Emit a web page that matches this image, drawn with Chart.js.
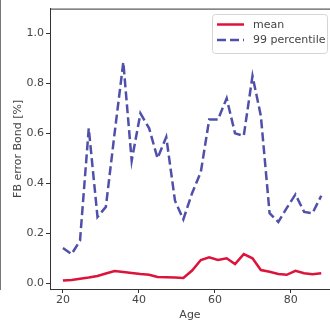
<!DOCTYPE html>
<html lang="en">
<head>
  <meta charset="UTF-8">
  <title>FB error Bond</title>
  <script src="https://cdn.jsdelivr.net/npm/chart.js"></script>
  <style>
    body {
      margin: 0;
      padding: 0;
      background-color: #fff;
      overflow: hidden;
    }
    canvas {
      display: block;
    }
  </style>
</head>
<body>
  <canvas id="chart" width="330" height="323"></canvas>
  <script>
    const ages = [20, 22.3, 24.5, 26.8, 29.1, 31.3, 33.6, 35.9, 38.1, 40.4, 42.7, 44.9, 47.2, 49.5, 51.7,
      54, 56.3, 58.5, 60.8, 63.1, 65.3, 67.6, 69.9, 72.1, 74.4, 76.7, 78.9, 81.2, 83.5, 85.7, 88];
    const meanVals = [0.010, 0.012, 0.017, 0.022, 0.028, 0.038, 0.048, 0.044, 0.040, 0.036, 0.033, 0.024,
      0.023, 0.022, 0.020, 0.050, 0.092, 0.103, 0.092, 0.099, 0.076, 0.116, 0.099, 0.052, 0.045, 0.036,
      0.033, 0.049, 0.039, 0.035, 0.039];
    const p99Vals = [0.14, 0.116, 0.17, 0.62, 0.265, 0.305, 0.60, 0.885, 0.49, 0.68, 0.62, 0.50, 0.585,
      0.33, 0.255, 0.36, 0.445, 0.655, 0.655, 0.74, 0.60, 0.59, 0.83, 0.67, 0.28, 0.245, 0.30, 0.355,
      0.285, 0.28, 0.35];
    const xTicks = [20, 40, 60, 80];
    const yTicks = [0.0, 0.2, 0.4, 0.6, 0.8, 1.0];
    const seriesNames = ['mean', '99 percentile'];

    const red = 'rgb(220, 20, 60)';
    const blue = 'rgb(80, 80, 170)';
    const textColor = '#444';
    const axisColor = '#333';
    const dash = [9, 4];

    // top spine, the cut-off neighbour's edge on the left, and the boxed legend
    const extras = {
      id: 'extras',
      afterDraw(chart) {
        const ctx = chart.ctx;
        const a = chart.chartArea;
        ctx.save();
        ctx.strokeStyle = axisColor;
        ctx.lineWidth = 1;
        ctx.beginPath();
        ctx.moveTo(a.left, a.top + 0.5);
        ctx.lineTo(a.right, a.top + 0.5);
        ctx.stroke();

        ctx.strokeStyle = '#777';
        ctx.beginPath();
        ctx.moveTo(0.5, 0);
        ctx.lineTo(0.5, 290);
        ctx.stroke();

        // legend
        const lx = 212.5, ly = 14.5, lw = 115, lh = 39;
        ctx.fillStyle = 'rgba(255,255,255,0.85)';
        ctx.strokeStyle = '#d4d4d4';
        ctx.beginPath();
        ctx.roundRect(lx, ly, lw, lh, 3);
        ctx.fill();
        ctx.stroke();

        ctx.lineWidth = 2.5;
        ctx.strokeStyle = red;
        ctx.setLineDash([]);
        ctx.beginPath();
        ctx.moveTo(217, 24.5);
        ctx.lineTo(244, 24.5);
        ctx.stroke();

        ctx.strokeStyle = blue;
        ctx.setLineDash(dash);
        ctx.beginPath();
        ctx.moveTo(217, 40);
        ctx.lineTo(244, 40);
        ctx.stroke();
        ctx.setLineDash([]);

        ctx.fillStyle = textColor;
        ctx.font = '11px "DejaVu Sans"';
        ctx.textBaseline = 'middle';
        ctx.textAlign = 'left';
        ctx.fillText(seriesNames[0], 253, 25);
        ctx.fillText(seriesNames[1], 253, 40);
        ctx.restore();
      }
    };

    const ctx = document.getElementById('chart').getContext('2d');
    const chart = new Chart(ctx, {
      type: 'line',
      data: {
        datasets: [{
          label: seriesNames[0],
          data: ages.map((a, i) => ({ x: a, y: meanVals[i] })),
          borderColor: red,
          borderWidth: 2.5,
          pointRadius: 0,
          tension: 0,
          fill: false
        }, {
          label: seriesNames[1],
          data: ages.map((a, i) => ({ x: a, y: p99Vals[i] })),
          borderColor: blue,
          borderWidth: 2.5,
          borderDash: dash,
          pointRadius: 0,
          tension: 0,
          fill: false
        }]
      },
      options: {
        responsive: false,
        animation: false,
        layout: { padding: { top: 8, right: 0, left: 0, bottom: 0 } },
        plugins: {
          legend: { display: false },
          tooltip: { enabled: false }
        },
        scales: {
          x: {
            type: 'linear',
            min: 16.6,
            max: 90.3,
            afterBuildTicks: (scale) => { scale.ticks = xTicks.map(v => ({ value: v })); },
            afterFit: (scale) => { scale.height = 34; },
            grid: { drawOnChartArea: false, drawTicks: true, tickLength: 4, tickColor: axisColor },
            border: { display: true, color: axisColor, width: 1 },
            ticks: {
              color: textColor,
              padding: 1,
              maxRotation: 0,
              font: { family: 'DejaVu Sans', size: 11 },
              callback: (v) => v
            },
            title: {
              display: true,
              text: 'Age',
              color: textColor,
              font: { family: 'DejaVu Sans', size: 11 },
              padding: { top: 0, bottom: 1.4 }
            }
          },
          y: {
            min: -0.024,
            max: 1.1,
            afterBuildTicks: (scale) => { scale.ticks = yTicks.map(v => ({ value: v })); },
            afterFit: (scale) => { scale.width = 50; },
            grid: { drawOnChartArea: false, drawTicks: true, tickLength: 4, tickColor: axisColor },
            border: { display: true, color: axisColor, width: 1 },
            ticks: {
              color: textColor,
              padding: 2,
              font: { family: 'DejaVu Sans', size: 11 },
              callback: (v) => v.toFixed(1)
            },
            title: {
              display: true,
              text: 'FB error Bond [%]',
              color: textColor,
              font: { family: 'DejaVu Sans', size: 11 },
              padding: { top: 11.4, bottom: 0 }
            }
          }
        }
      },
      plugins: [extras]
    });
  </script>
</body>
</html>
